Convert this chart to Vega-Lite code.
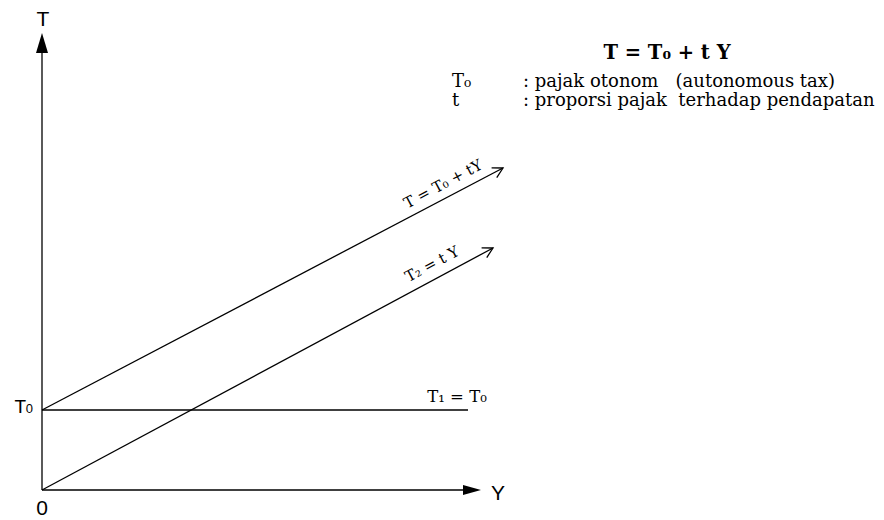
{
  "$schema": "https://vega.github.io/schema/vega-lite/v6.json",
  "width": 884,
  "height": 520,
  "padding": 0,
  "autosize": {"type": "none"},
  "background": "white",
  "config": {"view": {"stroke": null}},
  "datasets": {
    "lines": [
      {"name": "axisT", "x": 0, "y": 0, "x2": 0, "y2": 440},
      {"name": "axisY", "x": 0, "y": 0, "x2": 424, "y2": 0},
      {"name": "T1", "x": 0, "y": 80, "x2": 426, "y2": 80},
      {"name": "T", "x": 0, "y": 80, "x2": 461, "y2": 322},
      {"name": "T2", "x": 0, "y": 0, "x2": 451, "y2": 242}
    ],
    "arrowUp": [{"x": 0, "y": 447}],
    "arrowRight": [{"x": 430, "y": 0}],
    "chevrons": [{"x": 461, "y": 322}, {"x": 451, "y": 242}],
    "axisLabels": [
      {"x": 1, "y": 464, "text": "T"},
      {"x": 0, "y": -25, "text": "0"}
    ],
    "yLabel": [{"x": 449, "y": -10, "text": "Y"}],
    "t0Big": [{"x": -16, "y": 77, "text": "T"}],
    "t0Small": [{"x": -9, "y": 77, "text": "0"}],
    "lineLabels": [{"x": 415, "y": 88, "text": "T₁ = T₀"}],
    "rotLabels": [
      {"x": 401, "y": 306, "text": "T = T₀ + tY"},
      {"x": 390, "y": 226, "text": "T₂ = t Y"}
    ],
    "title": [{"x": 625, "y": 431, "text": "T = T₀ + t Y"}],
    "legendKeys": [
      {"x": 410, "y": 403, "text": "T₀"},
      {"x": 410, "y": 384, "text": "t"}
    ],
    "legendText": [
      {"x": 481, "y": 403, "text": ": pajak otonom \u00a0 (autonomous tax)"},
      {"x": 481, "y": 384, "text": ": proporsi pajak \u00a0terhadap pendapatan"}
    ]
  },
  "layer": [
    {
      "data": {"name": "lines"},
      "mark": {"type": "rule", "color": "black", "strokeWidth": 1.3},
      "encoding": {
        "x": {"field": "x", "type": "quantitative", "scale": {"domain": [-42, 842], "nice": false, "zero": false}, "axis": null},
        "y": {"field": "y", "type": "quantitative", "scale": {"domain": [-30, 490], "nice": false, "zero": false}, "axis": null},
        "x2": {"field": "x2"},
        "y2": {"field": "y2"}
      }
    },
    {
      "data": {"name": "arrowUp"},
      "mark": {"type": "point", "shape": "M0,-1L0.6,1L-0.6,1Z", "filled": true, "color": "black", "opacity": 1, "size": 400},
      "encoding": {
        "x": {"field": "x", "type": "quantitative"},
        "y": {"field": "y", "type": "quantitative"}
      }
    },
    {
      "data": {"name": "arrowRight"},
      "mark": {"type": "point", "shape": "M1,0L-1,-0.55L-1,0.55Z", "filled": true, "color": "black", "opacity": 1, "size": 324},
      "encoding": {
        "x": {"field": "x", "type": "quantitative"},
        "y": {"field": "y", "type": "quantitative"}
      }
    },
    {
      "data": {"name": "chevrons"},
      "mark": {"type": "point", "shape": "M-1,-0.55L0,0L-1,0.55", "filled": false, "color": "black", "opacity": 1, "strokeWidth": 1.3, "size": 400, "angle": -28},
      "encoding": {
        "x": {"field": "x", "type": "quantitative"},
        "y": {"field": "y", "type": "quantitative"}
      }
    },
    {
      "data": {"name": "axisLabels"},
      "mark": {"type": "text", "font": "Liberation Sans", "fontSize": 21, "align": "center", "baseline": "alphabetic", "color": "black"},
      "encoding": {
        "x": {"field": "x", "type": "quantitative"},
        "y": {"field": "y", "type": "quantitative"},
        "text": {"field": "text"}
      }
    },
    {
      "data": {"name": "yLabel"},
      "mark": {"type": "text", "font": "Liberation Sans", "fontSize": 21, "align": "left", "baseline": "alphabetic", "color": "black"},
      "encoding": {
        "x": {"field": "x", "type": "quantitative"},
        "y": {"field": "y", "type": "quantitative"},
        "text": {"field": "text"}
      }
    },
    {
      "data": {"name": "t0Big"},
      "mark": {"type": "text", "font": "Liberation Sans", "fontSize": 19, "align": "right", "baseline": "alphabetic", "color": "black"},
      "encoding": {
        "x": {"field": "x", "type": "quantitative"},
        "y": {"field": "y", "type": "quantitative"},
        "text": {"field": "text"}
      }
    },
    {
      "data": {"name": "t0Small"},
      "mark": {"type": "text", "font": "Liberation Sans", "fontSize": 13, "align": "right", "baseline": "alphabetic", "color": "black"},
      "encoding": {
        "x": {"field": "x", "type": "quantitative"},
        "y": {"field": "y", "type": "quantitative"},
        "text": {"field": "text"}
      }
    },
    {
      "data": {"name": "lineLabels"},
      "mark": {"type": "text", "font": "DejaVu Serif", "fontSize": 16.5, "align": "center", "baseline": "alphabetic", "color": "black"},
      "encoding": {
        "x": {"field": "x", "type": "quantitative"},
        "y": {"field": "y", "type": "quantitative"},
        "text": {"field": "text"}
      }
    },
    {
      "data": {"name": "rotLabels"},
      "mark": {"type": "text", "font": "DejaVu Serif", "fontSize": 15, "align": "center", "baseline": "middle", "angle": -28, "color": "black"},
      "encoding": {
        "x": {"field": "x", "type": "quantitative"},
        "y": {"field": "y", "type": "quantitative"},
        "text": {"field": "text"}
      }
    },
    {
      "data": {"name": "title"},
      "mark": {"type": "text", "font": "DejaVu Serif", "fontSize": 19.5, "fontWeight": "bold", "align": "center", "baseline": "alphabetic", "color": "black"},
      "encoding": {
        "x": {"field": "x", "type": "quantitative"},
        "y": {"field": "y", "type": "quantitative"},
        "text": {"field": "text"}
      }
    },
    {
      "data": {"name": "legendKeys"},
      "mark": {"type": "text", "font": "DejaVu Serif", "fontSize": 18, "align": "left", "baseline": "alphabetic", "color": "black"},
      "encoding": {
        "x": {"field": "x", "type": "quantitative"},
        "y": {"field": "y", "type": "quantitative"},
        "text": {"field": "text"}
      }
    },
    {
      "data": {"name": "legendText"},
      "mark": {"type": "text", "font": "DejaVu Serif", "fontSize": 18, "align": "left", "baseline": "alphabetic", "color": "black"},
      "encoding": {
        "x": {"field": "x", "type": "quantitative"},
        "y": {"field": "y", "type": "quantitative"},
        "text": {"field": "text"}
      }
    }
  ]
}
